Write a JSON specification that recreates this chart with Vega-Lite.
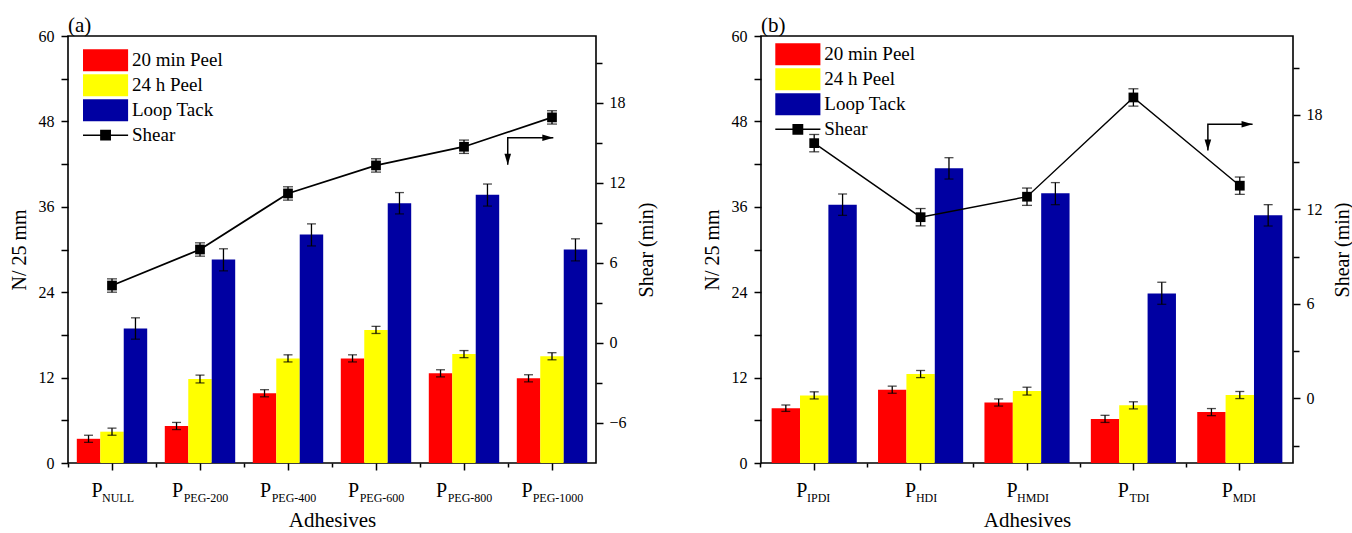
{
  "$schema": "https://vega.github.io/schema/vega-lite/v6.json",
  "padding": {"left": 8, "top": 14, "right": 2, "bottom": 2},
  "spacing": 44,
  "datasets": {
    "barsA": [
      {"cat": "NULL", "series": "20 min Peel", "v": 3.4, "lo": 2.9, "hi": 3.9},
      {"cat": "NULL", "series": "24 h Peel", "v": 4.4, "lo": 3.9, "hi": 4.9},
      {"cat": "NULL", "series": "Loop Tack", "v": 18.9, "lo": 17.4, "hi": 20.4},
      {"cat": "PEG-200", "series": "20 min Peel", "v": 5.2, "lo": 4.7, "hi": 5.7},
      {"cat": "PEG-200", "series": "24 h Peel", "v": 11.8, "lo": 11.25, "hi": 12.35},
      {"cat": "PEG-200", "series": "Loop Tack", "v": 28.6, "lo": 27.0, "hi": 30.1},
      {"cat": "PEG-400", "series": "20 min Peel", "v": 9.8, "lo": 9.3, "hi": 10.3},
      {"cat": "PEG-400", "series": "24 h Peel", "v": 14.7, "lo": 14.2, "hi": 15.2},
      {"cat": "PEG-400", "series": "Loop Tack", "v": 32.1, "lo": 30.5, "hi": 33.6},
      {"cat": "PEG-600", "series": "20 min Peel", "v": 14.7, "lo": 14.2, "hi": 15.2},
      {"cat": "PEG-600", "series": "24 h Peel", "v": 18.7, "lo": 18.2, "hi": 19.2},
      {"cat": "PEG-600", "series": "Loop Tack", "v": 36.5, "lo": 35.0, "hi": 38.0},
      {"cat": "PEG-800", "series": "20 min Peel", "v": 12.6, "lo": 12.1, "hi": 13.1},
      {"cat": "PEG-800", "series": "24 h Peel", "v": 15.3, "lo": 14.8, "hi": 15.8},
      {"cat": "PEG-800", "series": "Loop Tack", "v": 37.7, "lo": 36.1, "hi": 39.2},
      {"cat": "PEG-1000", "series": "20 min Peel", "v": 11.9, "lo": 11.4, "hi": 12.4},
      {"cat": "PEG-1000", "series": "24 h Peel", "v": 15.0, "lo": 14.5, "hi": 15.5},
      {"cat": "PEG-1000", "series": "Loop Tack", "v": 30.0, "lo": 28.4, "hi": 31.5}
    ],
    "shearA": [
      {"i": 1, "cat": "NULL", "v": 4.3, "lo": 3.8, "hi": 4.8},
      {"i": 2, "cat": "PEG-200", "v": 7.0, "lo": 6.5, "hi": 7.5},
      {"i": 3, "cat": "PEG-400", "v": 11.2, "lo": 10.7, "hi": 11.7},
      {"i": 4, "cat": "PEG-600", "v": 13.3, "lo": 12.8, "hi": 13.8},
      {"i": 5, "cat": "PEG-800", "v": 14.7, "lo": 14.2, "hi": 15.2},
      {"i": 6, "cat": "PEG-1000", "v": 16.9, "lo": 16.4, "hi": 17.4}
    ],
    "arrowA": [
      {"i": 1, "x": 5.497, "y": 41.9, "head": "down"},
      {"i": 2, "x": 5.497, "y": 45.7, "head": ""},
      {"i": 3, "x": 6.015, "y": 45.7, "head": "right"}
    ],
    "barsB": [
      {"cat": "IPDI", "series": "20 min Peel", "v": 7.7, "lo": 7.25, "hi": 8.15},
      {"cat": "IPDI", "series": "24 h Peel", "v": 9.5, "lo": 9.0, "hi": 10.0},
      {"cat": "IPDI", "series": "Loop Tack", "v": 36.3, "lo": 34.8, "hi": 37.8},
      {"cat": "HDI", "series": "20 min Peel", "v": 10.3, "lo": 9.8, "hi": 10.8},
      {"cat": "HDI", "series": "24 h Peel", "v": 12.5, "lo": 12.0, "hi": 13.0},
      {"cat": "HDI", "series": "Loop Tack", "v": 41.4, "lo": 39.9, "hi": 42.9},
      {"cat": "HMDI", "series": "20 min Peel", "v": 8.5, "lo": 8.0, "hi": 9.0},
      {"cat": "HMDI", "series": "24 h Peel", "v": 10.1, "lo": 9.55, "hi": 10.65},
      {"cat": "HMDI", "series": "Loop Tack", "v": 37.9, "lo": 36.3, "hi": 39.4},
      {"cat": "TDI", "series": "20 min Peel", "v": 6.2, "lo": 5.7, "hi": 6.7},
      {"cat": "TDI", "series": "24 h Peel", "v": 8.1, "lo": 7.6, "hi": 8.6},
      {"cat": "TDI", "series": "Loop Tack", "v": 23.8, "lo": 22.3, "hi": 25.4},
      {"cat": "MDI", "series": "20 min Peel", "v": 7.15, "lo": 6.65, "hi": 7.65},
      {"cat": "MDI", "series": "24 h Peel", "v": 9.55, "lo": 9.05, "hi": 10.05},
      {"cat": "MDI", "series": "Loop Tack", "v": 34.8, "lo": 33.3, "hi": 36.3}
    ],
    "shearB": [
      {"i": 1, "cat": "IPDI", "v": 16.2, "lo": 15.65, "hi": 16.75},
      {"i": 2, "cat": "HDI", "v": 11.5, "lo": 10.95, "hi": 12.05},
      {"i": 3, "cat": "HMDI", "v": 12.8, "lo": 12.25, "hi": 13.35},
      {"i": 4, "cat": "TDI", "v": 19.1, "lo": 18.55, "hi": 19.65},
      {"i": 5, "cat": "MDI", "v": 13.5, "lo": 12.95, "hi": 14.05}
    ],
    "arrowB": [
      {"i": 1, "x": 4.70, "y": 43.9, "head": "down"},
      {"i": 2, "x": 4.70, "y": 47.6, "head": ""},
      {"i": 3, "x": 5.12, "y": 47.6, "head": "right"}
    ]
  },
  "hconcat": [
    {
      "width": 528,
      "height": 427,
      "title": {"text": "(a)", "anchor": "start", "frame": "group", "fontSize": 21, "fontWeight": "normal", "font": "Liberation Serif", "offset": -8, "color": "black"},
      "layer": [
        {
          "layer": [
            {
              "data": {"name": "barsA"},
              "mark": {"type": "bar"},
              "encoding": {
                "x": {"field": "cat", "type": "nominal",
                  "scale": {"type": "band", "domain": ["NULL", "PEG-200", "PEG-400", "PEG-600", "PEG-800", "PEG-1000"], "paddingInner": 0.2, "paddingOuter": 0.1},
                  "axis": {"orient": "bottom", "labelExpr": "'P' + pad('', datum.value === 'NULL' ? 6 : datum.value === 'PEG-1000' ? 10 : 9, '\u00a0') + '\u200b'", "labelFontSize": 20, "labelAlign": "center", "labelBaseline": "top", "labelPadding": 10, "labelAngle": 0, "tickSize": 7, "title": "Adhesives", "titleFontSize": 21, "titlePadding": 9}},
                "xOffset": {"field": "series", "type": "nominal", "scale": {"domain": ["20 min Peel", "24 h Peel", "Loop Tack"], "paddingInner": 0, "paddingOuter": 0}},
                "y": {"field": "v", "type": "quantitative", "scale": {"domain": [0, 60], "nice": false, "zero": false},
                  "axis": {"orient": "left", "values": [0, 12, 24, 36, 48, 60], "tickSize": 7, "labelPadding": 7, "title": "N/ 25 mm", "titlePadding": 9}},
                "color": {"field": "series", "type": "nominal",
                  "scale": {"domain": ["20 min Peel", "24 h Peel", "Loop Tack", "Shear"], "range": ["#ff0000", "#ffff00", "#0000a2", "#000000"]},
                  "legend": {"orient": "none", "legendX": 14, "legendY": 11.85, "title": null, "labelFontSize": 19, "labelFont": "Liberation Serif", "labelColor": "black", "labelOffset": 26, "rowPadding": 0, "clipHeight": 24.7, "padding": 0, "symbolSize": 484,
                    "encode": {"symbols": {"update": {
                      "shape": {"signal": "datum.value === 'Shear' ? 'M-1,0H0.63M1.47,0H3.1M0.63,-0.42H1.47V0.42H0.63Z' : 'M-1,-1H3.1V1H-1Z'"},
                      "stroke": {"signal": "datum.value === 'Shear' ? 'black' : 'transparent'"},
                      "strokeWidth": {"value": 1.6},
                      "opacity": {"value": 1},
                      "fillOpacity": {"value": 1}
                    }}}}}
              }
            },
            {
              "data": {"name": "barsA"},
              "mark": {"type": "rule", "color": "black", "strokeWidth": 1.3},
              "encoding": {
                "x": {"field": "cat", "type": "nominal",
                  "axis": {"orient": "bottom", "labelExpr": "'\u200b' + pad('', 4, '\u00a0') + datum.value", "labelFontSize": 12, "labelAlign": "center", "labelBaseline": "top", "ticks": false, "tickSize": 0, "labelPadding": 29, "labelAngle": 0, "title": null}},
                "xOffset": {"field": "series", "type": "nominal"},
                "y": {"field": "lo", "type": "quantitative", "scale": {"domain": [0, 60], "nice": false, "zero": false},
                  "axis": {"orient": "left", "values": [6, 18, 30, 42, 54], "labels": false, "tickSize": 7, "title": null}},
                "y2": {"field": "hi"}
              }
            },
            {
              "data": {"name": "barsA"},
              "mark": {"type": "tick", "color": "black", "size": 9, "thickness": 1.3},
              "encoding": {
                "x": {"field": "cat", "type": "nominal", "axis": {"orient": "bottom", "bandPosition": -0.125, "labels": false, "tickSize": 4, "title": null}},
                "xOffset": {"field": "series", "type": "nominal"},
                "y": {"field": "hi", "type": "quantitative", "scale": {"domain": [0, 60], "nice": false, "zero": false}, "axis": null}
              }
            },
            {
              "data": {"name": "barsA"},
              "mark": {"type": "tick", "color": "black", "size": 9, "thickness": 1.3},
              "encoding": {
                "x": {"field": "cat", "type": "nominal", "axis": null},
                "xOffset": {"field": "series", "type": "nominal"},
                "y": {"field": "lo", "type": "quantitative", "scale": {"domain": [0, 60], "nice": false, "zero": false}, "axis": null}
              }
            },
            {
              "data": {"name": "shearA"},
              "mark": {"type": "line", "color": "black", "strokeWidth": 1.8},
              "encoding": {
                "x": {"field": "cat", "type": "nominal", "axis": null},
                "y": {"field": "v", "type": "quantitative", "scale": {"domain": [-9, 23], "nice": false, "zero": false},
                  "axis": {"orient": "right", "values": [-6, 0, 6, 12, 18], "tickSize": 7, "labelPadding": 6, "title": "Shear (min)", "titleAngle": 270, "titleBaseline": "top", "titlePadding": 10}},
                "order": {"field": "i", "type": "quantitative"}
              }
            },
            {
              "data": {"name": "shearA"},
              "mark": {"type": "rule", "color": "black", "strokeWidth": 1.3},
              "encoding": {
                "x": {"field": "cat", "type": "nominal", "axis": null},
                "y": {"field": "lo", "type": "quantitative", "scale": {"domain": [-9, 23], "nice": false, "zero": false},
                  "axis": {"orient": "right", "values": [-3, 3, 9, 15, 21], "labels": false, "tickSize": 6, "title": null}},
                "y2": {"field": "hi"}
              }
            },
            {
              "data": {"name": "shearA"},
              "mark": {"type": "tick", "color": "black", "size": 10, "thickness": 1.3},
              "encoding": {
                "x": {"field": "cat", "type": "nominal", "axis": null},
                "y": {"field": "hi", "type": "quantitative", "scale": {"domain": [-9, 23], "nice": false, "zero": false}, "axis": null}
              }
            },
            {
              "data": {"name": "shearA"},
              "mark": {"type": "tick", "color": "black", "size": 10, "thickness": 1.3},
              "encoding": {
                "x": {"field": "cat", "type": "nominal", "axis": null},
                "y": {"field": "lo", "type": "quantitative", "scale": {"domain": [-9, 23], "nice": false, "zero": false}, "axis": null}
              }
            },
            {
              "data": {"name": "shearA"},
              "mark": {"type": "point", "shape": "square", "size": 95, "filled": true, "color": "black", "opacity": 1},
              "encoding": {
                "x": {"field": "cat", "type": "nominal", "axis": null},
                "y": {"field": "v", "type": "quantitative", "scale": {"domain": [-9, 23], "nice": false, "zero": false}, "axis": null}
              }
            }
          ],
          "resolve": {"scale": {"y": "independent"}, "axis": {"x": "independent", "y": "independent"}}
        },
        {
          "data": {"name": "arrowA"},
          "layer": [
            {
              "mark": {"type": "line", "color": "black", "strokeWidth": 1.5},
              "encoding": {
                "x": {"field": "x", "type": "quantitative", "scale": {"domain": [0.5, 6.5], "nice": false, "zero": false}, "axis": null},
                "y": {"field": "y", "type": "quantitative", "scale": {"domain": [0, 60], "nice": false, "zero": false}, "axis": null},
                "order": {"field": "i", "type": "quantitative"}
              }
            },
            {
              "transform": [{"filter": "datum.head !== ''"}],
              "mark": {"type": "point", "filled": true, "color": "black", "opacity": 1, "size": 121},
              "encoding": {
                "x": {"field": "x", "type": "quantitative", "axis": null},
                "y": {"field": "y", "type": "quantitative", "axis": null},
                "shape": {"field": "head", "type": "nominal", "scale": {"domain": ["down", "right"], "range": ["M0,0L-0.6,-2L0.6,-2Z", "M0,0L-2,-0.6L-2,0.6Z"]}, "legend": null}
              }
            }
          ]
        }
      ],
      "resolve": {"scale": {"x": "independent", "y": "independent"}}
    },
    {
      "width": 532,
      "height": 427,
      "title": {"text": "(b)", "anchor": "start", "frame": "group", "fontSize": 21, "fontWeight": "normal", "font": "Liberation Serif", "offset": -8, "color": "black"},
      "layer": [
        {
          "layer": [
            {
              "data": {"name": "barsB"},
              "mark": {"type": "bar"},
              "encoding": {
                "x": {"field": "cat", "type": "nominal",
                  "scale": {"type": "band", "domain": ["IPDI", "HDI", "HMDI", "TDI", "MDI"], "paddingInner": 0.2, "paddingOuter": 0.1},
                  "axis": {"orient": "bottom", "labelExpr": "'P' + pad('', datum.value === 'HMDI' ? 6 : (datum.value === 'HDI' || datum.value === 'TDI') ? 4 : 5, '\u00a0') + '\u200b'", "labelFontSize": 20, "labelAlign": "center", "labelBaseline": "top", "labelPadding": 10, "labelAngle": 0, "tickSize": 7, "title": "Adhesives", "titleFontSize": 21, "titlePadding": 9}},
                "xOffset": {"field": "series", "type": "nominal", "scale": {"domain": ["20 min Peel", "24 h Peel", "Loop Tack"], "paddingInner": 0, "paddingOuter": 0}},
                "y": {"field": "v", "type": "quantitative", "scale": {"domain": [0, 60], "nice": false, "zero": false},
                  "axis": {"orient": "left", "values": [0, 12, 24, 36, 48, 60], "tickSize": 7, "labelPadding": 7, "title": "N/ 25 mm", "titlePadding": 9}},
                "color": {"field": "series", "type": "nominal",
                  "scale": {"domain": ["20 min Peel", "24 h Peel", "Loop Tack", "Shear"], "range": ["#ff0000", "#ffff00", "#0000a2", "#000000"]},
                  "legend": {"orient": "none", "legendX": 13.3, "legendY": 5.95, "title": null, "labelFontSize": 19, "labelFont": "Liberation Serif", "labelColor": "black", "labelOffset": 26, "rowPadding": 0, "clipHeight": 24.7, "padding": 0, "symbolSize": 484,
                    "encode": {"symbols": {"update": {
                      "shape": {"signal": "datum.value === 'Shear' ? 'M-1,0H0.63M1.47,0H3.1M0.63,-0.42H1.47V0.42H0.63Z' : 'M-1,-1H3.1V1H-1Z'"},
                      "stroke": {"signal": "datum.value === 'Shear' ? 'black' : 'transparent'"},
                      "strokeWidth": {"value": 1.6},
                      "opacity": {"value": 1},
                      "fillOpacity": {"value": 1}
                    }}}}}
              }
            },
            {
              "data": {"name": "barsB"},
              "mark": {"type": "rule", "color": "black", "strokeWidth": 1.3},
              "encoding": {
                "x": {"field": "cat", "type": "nominal",
                  "axis": {"orient": "bottom", "labelExpr": "'\u200b' + pad('', (datum.value === 'IPDI' || datum.value === 'MDI') ? 3 : 4, '\u00a0') + datum.value", "labelFontSize": 12, "labelAlign": "center", "labelBaseline": "top", "ticks": false, "tickSize": 0, "labelPadding": 29, "labelAngle": 0, "title": null}},
                "xOffset": {"field": "series", "type": "nominal"},
                "y": {"field": "lo", "type": "quantitative", "scale": {"domain": [0, 60], "nice": false, "zero": false},
                  "axis": {"orient": "left", "values": [6, 18, 30, 42, 54], "labels": false, "tickSize": 7, "title": null}},
                "y2": {"field": "hi"}
              }
            },
            {
              "data": {"name": "barsB"},
              "mark": {"type": "tick", "color": "black", "size": 9, "thickness": 1.3},
              "encoding": {
                "x": {"field": "cat", "type": "nominal", "axis": {"orient": "bottom", "bandPosition": -0.125, "labels": false, "tickSize": 4, "title": null}},
                "xOffset": {"field": "series", "type": "nominal"},
                "y": {"field": "hi", "type": "quantitative", "scale": {"domain": [0, 60], "nice": false, "zero": false}, "axis": null}
              }
            },
            {
              "data": {"name": "barsB"},
              "mark": {"type": "tick", "color": "black", "size": 9, "thickness": 1.3},
              "encoding": {
                "x": {"field": "cat", "type": "nominal", "axis": null},
                "xOffset": {"field": "series", "type": "nominal"},
                "y": {"field": "lo", "type": "quantitative", "scale": {"domain": [0, 60], "nice": false, "zero": false}, "axis": null}
              }
            },
            {
              "data": {"name": "shearB"},
              "mark": {"type": "line", "color": "black", "strokeWidth": 1.4},
              "encoding": {
                "x": {"field": "cat", "type": "nominal", "axis": null},
                "y": {"field": "v", "type": "quantitative", "scale": {"domain": [-4.1, 23], "nice": false, "zero": false},
                  "axis": {"orient": "right", "values": [0, 6, 12, 18], "tickSize": 7, "labelPadding": 6, "title": "Shear (min)", "titleAngle": 270, "titleBaseline": "top", "titlePadding": 10}},
                "order": {"field": "i", "type": "quantitative"}
              }
            },
            {
              "data": {"name": "shearB"},
              "mark": {"type": "rule", "color": "black", "strokeWidth": 1.3},
              "encoding": {
                "x": {"field": "cat", "type": "nominal", "axis": null},
                "y": {"field": "lo", "type": "quantitative", "scale": {"domain": [-4.1, 23], "nice": false, "zero": false},
                  "axis": {"orient": "right", "values": [-3, 3, 9, 15, 21], "labels": false, "tickSize": 6, "title": null}},
                "y2": {"field": "hi"}
              }
            },
            {
              "data": {"name": "shearB"},
              "mark": {"type": "tick", "color": "black", "size": 10, "thickness": 1.3},
              "encoding": {
                "x": {"field": "cat", "type": "nominal", "axis": null},
                "y": {"field": "hi", "type": "quantitative", "scale": {"domain": [-4.1, 23], "nice": false, "zero": false}, "axis": null}
              }
            },
            {
              "data": {"name": "shearB"},
              "mark": {"type": "tick", "color": "black", "size": 10, "thickness": 1.3},
              "encoding": {
                "x": {"field": "cat", "type": "nominal", "axis": null},
                "y": {"field": "lo", "type": "quantitative", "scale": {"domain": [-4.1, 23], "nice": false, "zero": false}, "axis": null}
              }
            },
            {
              "data": {"name": "shearB"},
              "mark": {"type": "point", "shape": "square", "size": 95, "filled": true, "color": "black", "opacity": 1},
              "encoding": {
                "x": {"field": "cat", "type": "nominal", "axis": null},
                "y": {"field": "v", "type": "quantitative", "scale": {"domain": [-4.1, 23], "nice": false, "zero": false}, "axis": null}
              }
            }
          ],
          "resolve": {"scale": {"y": "independent"}, "axis": {"x": "independent", "y": "independent"}}
        },
        {
          "data": {"name": "arrowB"},
          "layer": [
            {
              "mark": {"type": "line", "color": "black", "strokeWidth": 1.5},
              "encoding": {
                "x": {"field": "x", "type": "quantitative", "scale": {"domain": [0.5, 5.5], "nice": false, "zero": false}, "axis": null},
                "y": {"field": "y", "type": "quantitative", "scale": {"domain": [0, 60], "nice": false, "zero": false}, "axis": null},
                "order": {"field": "i", "type": "quantitative"}
              }
            },
            {
              "transform": [{"filter": "datum.head !== ''"}],
              "mark": {"type": "point", "filled": true, "color": "black", "opacity": 1, "size": 121},
              "encoding": {
                "x": {"field": "x", "type": "quantitative", "axis": null},
                "y": {"field": "y", "type": "quantitative", "axis": null},
                "shape": {"field": "head", "type": "nominal", "scale": {"domain": ["down", "right"], "range": ["M0,0L-0.6,-2L0.6,-2Z", "M0,0L-2,-0.6L-2,0.6Z"]}, "legend": null}
              }
            }
          ]
        }
      ],
      "resolve": {"scale": {"x": "independent", "y": "independent"}}
    }
  ],
  "resolve": {"scale": {"color": "independent", "xOffset": "independent"}, "legend": {"color": "independent"}},
  "config": {
    "font": "Liberation Serif",
    "view": {"stroke": "black", "strokeWidth": 1.6},
    "axis": {"grid": false, "domain": false, "labelColor": "black", "titleColor": "black", "tickColor": "black", "tickWidth": 1.5, "labelFont": "Liberation Serif", "titleFont": "Liberation Serif", "titleFontWeight": "normal", "labelFontSize": 16, "titleFontSize": 20}
  }
}
